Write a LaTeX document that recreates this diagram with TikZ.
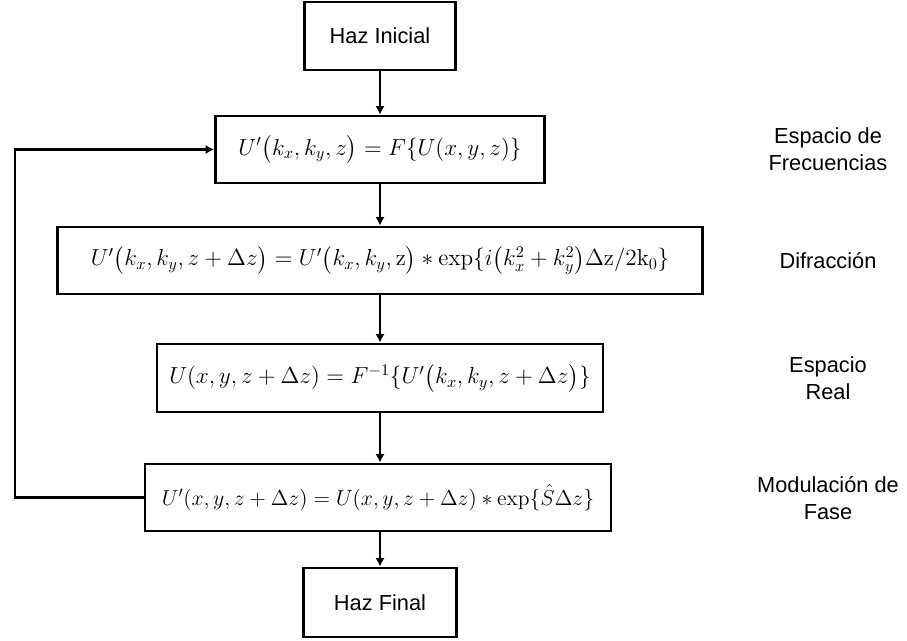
\RequirePackage{fix-cm}
\documentclass[tikz,border=0pt]{standalone}
\usepackage{amsmath,amssymb}
\usepackage[no-math]{fontspec}
\setmainfont{Liberation Sans}
\usepackage{tikz}
\usetikzlibrary{arrows.meta}

\begin{document}
\begin{tikzpicture}[x=0.025cm, y=-0.025cm,
    box/.style={shape=rectangle, draw, line width=2pt, inner sep=0pt, font=\fontsize{15.5}{18}\selectfont},
    eqbox/.style={box, font=\fontsize{16.5}{19}\selectfont},
    side/.style={align=center, font=\fontsize{15.5}{19.2}\selectfont},
    flow/.style={line width=2pt, -{Latex[length=6pt,width=6.5pt]}}]
    \useasboundingbox (0,0) rectangle (907,640);

    \node (inicial) at (380,36) [box, minimum width=3.775cm, minimum height=1.7cm] {Haz Inicial};
    \node (frec) at (380,149.5) [eqbox, minimum width=8.225cm, minimum height=1.675cm]
        {$U'\big(k_x,k_y,z\big) = F\{U(x,y,z)\}$};
    \node (difr) at (380,260.5) [eqbox, minimum width=16.125cm, minimum height=1.675cm]
        {$U'\big(k_x,k_y,z+\Delta z\big) = U'\big(k_x,k_y,\mathrm{z}\big) * \exp\{i\big(k_x^2+k_y^2\big)\Delta\mathrm{z}/2\mathrm{k}_0\}$};
    \node (real) at (380,378) [eqbox, minimum width=11.15cm, minimum height=1.7cm]
        {$U(x,y,z+\Delta z) = F^{-1}\{U'\big(k_x,k_y,z+\Delta z\big)\}$};
    \node (modul) at (378,497.5) [eqbox, font=\fontsize{15.4}{18}\selectfont, minimum width=11.65cm, minimum height=1.675cm]
        {$U'(x,y,z+\Delta z) = U(x,y,z+\Delta z) * \exp\{\hat{S}\Delta z\}$};
    \node (final) at (380,602.5) [box, minimum width=3.825cm, minimum height=1.725cm] {Haz Final};

    \node (lfrec) at (828,149) [side] {Espacio de\\Frecuencias};
    \node (ldifr) at (828,261) [side] {Difracción};
    \node (lreal) at (828,378) [side] {Espacio\\Real};
    \node (lmodul) at (828,498) [side] {Modulación de\\Fase};

    \draw[flow] (inicial.south) -- (frec.north);
    \draw[flow] (frec.south) -- (difr.north);
    \draw[flow] (difr.south) -- (real.north);
    \draw[flow] (real.south) -- (real.south |- modul.north);
    \draw[flow] (real.south |- modul.south) -- (final.north);

    % lazo de vuelta
    \coordinate (loop) at (15,0);
    \draw[flow] (modul.west) -- (modul.west -| loop) |- (frec.west);
\end{tikzpicture}
\end{document}
